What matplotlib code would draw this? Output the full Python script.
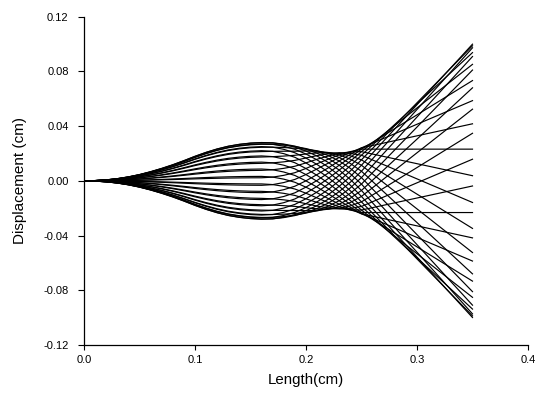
import numpy as np
import matplotlib
matplotlib.use("Agg")
import matplotlib.pyplot as plt
from matplotlib.ticker import FormatStrFormatter

plt.rcParams['font.family'] = ['Liberation Sans', 'DejaVu Sans']
plt.rcParams['axes.unicode_minus'] = False

# positions along the beam (cm)
length = [0.00, 0.01, 0.02, 0.03, 0.04, 0.05, 0.06, 0.07, 0.08, 0.09,
          0.10, 0.11, 0.12, 0.13, 0.14, 0.15, 0.16, 0.17, 0.18, 0.19,
          0.20, 0.21, 0.22, 0.23, 0.24, 0.25, 0.26, 0.27, 0.28, 0.29,
          0.30, 0.31, 0.32, 0.33, 0.34, 0.35]

# in-phase part of the deflection shape (cm)
shape_real = [0.0, -0.00019, -0.00067, -0.00152, -0.00276, -0.00437, -0.00637,
              -0.00866, -0.01122, -0.01408, -0.01712, -0.01988, -0.02226,
              -0.02416, -0.02549, -0.02634, -0.02673, -0.02638, -0.02494,
              -0.02263, -0.01909, -0.01472, -0.00944, -0.00320, 0.00400,
              0.01224, 0.02102, 0.02979, 0.03857, 0.04734, 0.05612, 0.06490,
              0.07367, 0.08245, 0.09122, 0.1]

# quadrature part of the deflection shape (cm)
shape_imag = [0.0, 0.00006, 0.00022, 0.00049, 0.00090, 0.00142, 0.00207,
              0.00281, 0.00365, 0.00457, 0.00556, 0.00646, 0.00723, 0.00785,
              0.00828, 0.00856, 0.00868, 0.00908, 0.01008, 0.01153, 0.01387,
              0.01635, 0.01853, 0.02030, 0.02100, 0.02090, 0.01881, 0.01672,
              0.01463, 0.01254, 0.01045, 0.00836, 0.00627, 0.00418, 0.00209,
              0.0]

# phase of each snapshot (deg)
phase = [9.1, 20.35, 31.6, 42.85, 54.1, 65.35, 76.6, 87.85, 99.1, 110.35,
         121.6, 132.85, 144.1, 155.35, 166.6, 177.85, 189.1, 200.35, 211.6,
         222.85, 234.1, 245.35, 256.6, 267.85, 279.1, 290.35, 301.6, 312.85,
         324.1, 335.35, 346.6, 357.85]

x = np.array(length)
re = np.array(shape_real)
im = np.array(shape_imag)

fig = plt.figure(figsize=(5.39, 3.94), dpi=100)
ax = fig.add_axes([0.1558, 0.1244, 0.8238, 0.8332])

for p in phase:
    t = np.deg2rad(p)
    ax.plot(x, re * np.cos(t) + im * np.sin(t), color='black', lw=0.85)

ax.set_xlim(0, 0.4)
ax.set_ylim(-0.12, 0.12)
ax.set_xticks([0.0, 0.1, 0.2, 0.3, 0.4])
ax.set_yticks([-0.12, -0.08, -0.04, 0.0, 0.04, 0.08, 0.12])
ax.xaxis.set_major_formatter(FormatStrFormatter('%.1f'))
ax.yaxis.set_major_formatter(FormatStrFormatter('%.2f'))
ax.tick_params(axis='x', direction='out', length=3.8, width=0.8, pad=3.5,
               labelsize=8, colors='black')
ax.tick_params(axis='y', direction='out', length=4.5, width=0.8, pad=6.5,
               labelsize=8, colors='black')
ax.spines['top'].set_visible(False)
ax.spines['right'].set_visible(False)
ax.spines['left'].set_linewidth(0.9)
ax.spines['bottom'].set_linewidth(0.9)

ax.set_xlabel('Length(cm)', fontsize=10.8)
ax.set_ylabel('Displacement (cm)', fontsize=11)
ax.xaxis.set_label_coords(0.5, -0.085)
ax.yaxis.set_label_coords(-0.128, 0.5)

fig.savefig('out.png', dpi=100)
